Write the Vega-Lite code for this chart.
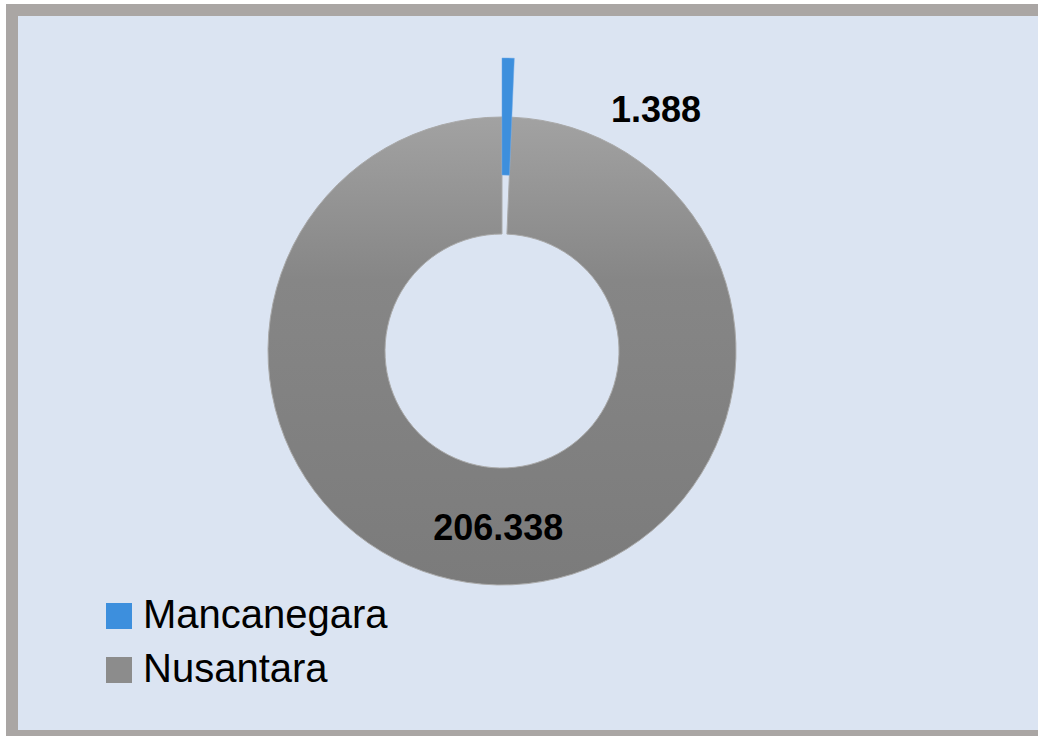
{
  "$schema": "https://vega.github.io/schema/vega-lite/v6.json",
  "width": 1038,
  "height": 736,
  "autosize": {"type": "fit", "contains": "padding"},
  "padding": {"left": 12, "top": 10, "right": -6, "bottom": 0},
  "background": "white",
  "view": {"fill": "#dbe4f2", "stroke": "#aaa6a4", "strokeWidth": 12},
  "config": {
    "locale": {"number": {"decimal": ",", "thousands": ".", "grouping": [3], "currency": ["Rp", ""]}}
  },
  "data": {
    "values": [
      {"kategori": "Mancanegara", "jumlah": 1388},
      {"kategori": "Nusantara", "jumlah": 206338}
    ]
  },
  "encoding": {
    "theta": {"field": "jumlah", "type": "quantitative", "stack": true}
  },
  "layer": [
    {
      "mark": {
        "type": "arc",
        "innerRadius": 117,
        "outerRadius": 234,
        "x": {"expr": "width/2 - 26"},
        "y": {"expr": "height/2 - 22"},
        "fill": {
          "gradient": "linear", "x1": 0, "y1": 0, "x2": 0, "y2": 1,
          "stops": [
            {"offset": 0, "color": "#a2a2a2"},
            {"offset": 0.35, "color": "#868686"},
            {"offset": 1, "color": "#7b7b7b"}
          ]
        },
        "stroke": "#a9a9a9",
        "strokeWidth": 1
      },
      "encoding": {
        "opacity": {"condition": {"test": "datum.kategori === 'Nusantara'", "value": 1}, "value": 0}
      }
    },
    {
      "mark": {
        "type": "arc",
        "innerRadius": 176,
        "outerRadius": 293,
        "x": {"expr": "width/2 - 26"},
        "y": {"expr": "height/2 - 22"},
        "stroke": "#6aa6e6",
        "strokeWidth": 0.5
      },
      "encoding": {
        "color": {
          "field": "kategori",
          "type": "nominal",
          "scale": {"domain": ["Mancanegara", "Nusantara"], "range": ["#3d8fdd", "#8c8c8c"]},
          "legend": {
            "orient": "none",
            "legendX": 87,
            "legendY": 586,
            "title": null,
            "symbolType": "square",
            "symbolSize": 676,
            "symbolStrokeWidth": 0,
            "labelFontSize": 40,
            "labelFont": "Liberation Sans",
            "labelColor": "black",
            "labelOffset": 4,
            "labelLimit": 0,
            "rowPadding": 14,
            "padding": 0
          }
        },
        "opacity": {"condition": {"test": "datum.kategori === 'Mancanegara'", "value": 1}, "value": 0}
      }
    },
    {
      "mark": {
        "type": "text",
        "radius": 178,
        "x": {"expr": "width/2 - 26"},
        "y": {"expr": "height/2 - 22"},
        "font": "Liberation Sans",
        "fontWeight": "bold",
        "fontSize": 36,
        "color": "black",
        "align": "center",
        "baseline": "middle"
      },
      "encoding": {
        "text": {"field": "jumlah", "type": "quantitative", "format": ",d"},
        "opacity": {"condition": {"test": "datum.kategori === 'Nusantara'", "value": 1}, "value": 0}
      }
    },
    {
      "mark": {
        "type": "text",
        "radius": 285,
        "dx": 148,
        "dy": 45,
        "x": {"expr": "width/2 - 26"},
        "y": {"expr": "height/2 - 22"},
        "font": "Liberation Sans",
        "fontWeight": "bold",
        "fontSize": 36,
        "color": "black",
        "align": "center",
        "baseline": "middle"
      },
      "encoding": {
        "text": {"field": "jumlah", "type": "quantitative", "format": ",d"},
        "opacity": {"condition": {"test": "datum.kategori === 'Mancanegara'", "value": 1}, "value": 0}
      }
    }
  ]
}
